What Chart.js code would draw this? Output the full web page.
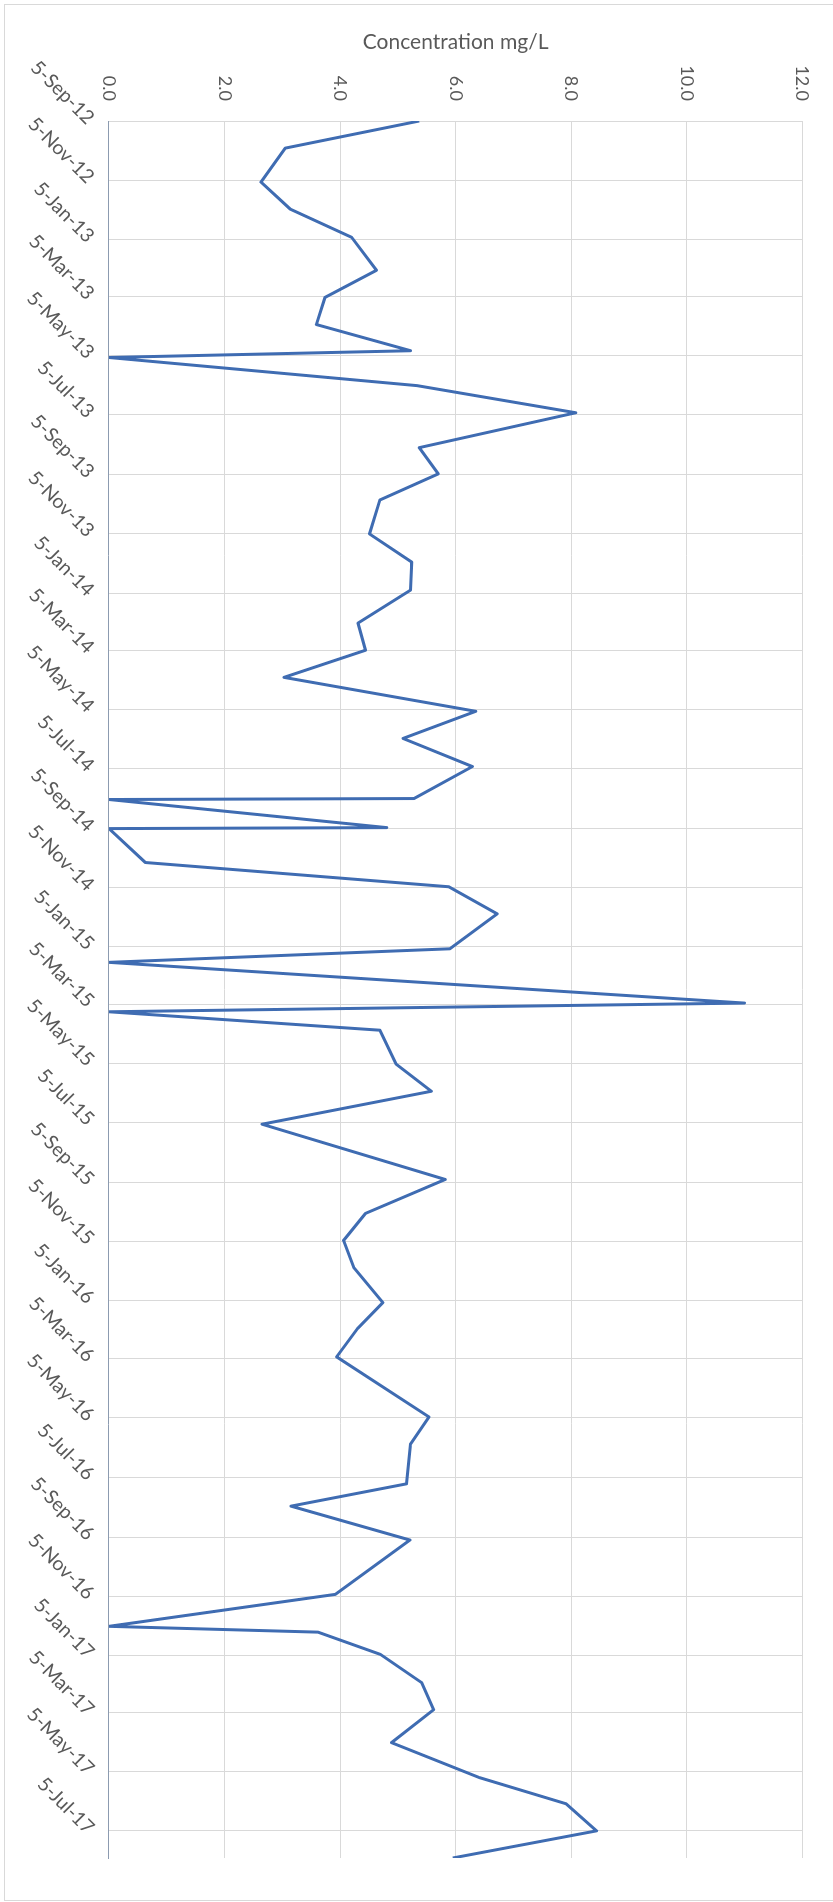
<!DOCTYPE html>
<html>
<head>
<meta charset="utf-8">
<script src="https://cdn.jsdelivr.net/npm/chart.js@4.4.0/dist/chart.umd.min.js"></script>
<style>
  html, body { margin: 0; padding: 0; background: #fff; overflow: hidden; }
  body { width: 833px; height: 1902px; position: relative; }
  #marco { position: absolute; left: 4px; top: 4px; width: 900px; height: 1897px; border: 1px solid #d9d9d9; box-sizing: border-box; }
  /* el grafico se dibuja horizontal y se gira 90 grados */
  #giro { position: absolute; left: 0; top: 0; width: 1902px; height: 833px; transform-origin: 0 0; transform: translateX(833px) rotate(90deg); }
</style>
</head>
<body>
<div id="marco"></div>
<div id="giro"><canvas id="graficoConcentracion" width="1902" height="833"></canvas></div>
<script>
// Muestreos
const fechas = [
  '2012-09-05', '2012-10-03', '2012-11-07', '2012-12-05', '2013-01-03', '2013-02-06',
  '2013-03-06', '2013-04-03', '2013-04-30', '2013-05-07', '2013-06-05', '2013-07-03',
  '2013-08-08', '2013-09-04', '2013-10-01', '2013-11-05', '2013-12-04', '2014-01-02',
  '2014-02-05', '2014-03-05', '2014-04-02', '2014-05-07', '2014-06-04', '2014-07-03',
  '2014-08-05', '2014-08-06', '2014-09-04', '2014-09-05', '2014-10-10', '2014-11-04',
  '2014-12-02', '2015-01-07', '2015-01-21', '2015-03-04', '2015-03-13', '2015-04-01',
  '2015-05-06', '2015-06-03', '2015-07-07', '2015-09-02', '2015-10-07', '2015-11-04',
  '2015-12-02', '2016-01-07', '2016-02-03', '2016-03-03', '2016-05-04', '2016-06-01',
  '2016-07-12', '2016-08-04', '2016-09-08', '2016-11-03', '2016-12-06', '2016-12-12',
  '2017-01-04', '2017-02-02', '2017-03-02', '2017-04-05', '2017-05-11', '2017-06-07',
  '2017-07-05', '2017-08-02'
];
const concentracion = [
  5.37, 3.05, 2.63, 3.14, 4.20, 4.63,
  3.74, 3.59, 5.22, 0, 5.33, 8.08,
  5.37, 5.70, 4.69, 4.51, 5.24, 5.22,
  4.31, 4.44, 3.03, 6.35, 5.09, 6.29,
  5.28, 0, 4.81, 0, 0.63, 5.88,
  6.72, 5.90, 0, 11.0, 0, 4.69,
  4.97, 5.58, 2.65, 5.82, 4.44, 4.06,
  4.24, 4.74, 4.30, 3.94, 5.54, 5.22,
  5.15, 3.15, 5.21, 3.92, 0, 3.62,
  4.70, 5.41, 5.62, 4.89, 6.41, 7.91,
  8.44, 5.95
];

// Ejes
const etiquetasFecha = [
  '5-Sep-12', '5-Nov-12', '5-Jan-13', '5-Mar-13', '5-May-13', '5-Jul-13',
  '5-Sep-13', '5-Nov-13', '5-Jan-14', '5-Mar-14', '5-May-14', '5-Jul-14',
  '5-Sep-14', '5-Nov-14', '5-Jan-15', '5-Mar-15', '5-May-15', '5-Jul-15',
  '5-Sep-15', '5-Nov-15', '5-Jan-16', '5-Mar-16', '5-May-16', '5-Jul-16',
  '5-Sep-16', '5-Nov-16', '5-Jan-17', '5-Mar-17', '5-May-17', '5-Jul-17'
];
const marcasValor = [0, 2, 4, 6, 8, 10, 12];

const MESES = { Jan: 0, Feb: 1, Mar: 2, Apr: 3, May: 4, Jun: 5, Jul: 6, Aug: 7, Sep: 8, Oct: 9, Nov: 10, Dec: 11 };

// dias desde 1970, para usar un eje lineal sin adaptador de fechas
function diaISO(s) {
  const [a, m, d] = s.split('-').map(Number);
  return Date.UTC(a, m - 1, d) / 864e5;
}
function diaEtiqueta(s) {
  const [d, mes, a] = s.split('-');
  return Date.UTC(2000 + Number(a), MESES[mes], Number(d)) / 864e5;
}

const gris = '#595959';

const ctx = document.getElementById('graficoConcentracion');
if (ctx) {
  new Chart(ctx.getContext('2d'), {
    type: 'line',
    data: {
      datasets: [{
        label: 'Concentration mg/L',
        data: fechas.map((f, i) => ({ x: diaISO(f), y: concentracion[i] })),
        borderColor: '#3f6cb2',
        borderWidth: 3,
        borderJoinStyle: 'round',
        pointRadius: 0,
        tension: 0,
        fill: false
      }]
    },
    options: {
      responsive: false,
      animation: false,
      layout: { padding: { top: 23, right: 44, bottom: 0, left: 0 } },
      plugins: { legend: { display: false }, tooltip: { enabled: false } },
      scales: {
        x: {
          type: 'linear',
          min: diaISO(fechas[0]),
          max: diaISO(fechas[fechas.length - 1]),
          afterBuildTicks: eje => { eje.ticks = etiquetasFecha.map(t => ({ value: diaEtiqueta(t) })); },
          afterFit: eje => { eje.height = 109; },
          ticks: {
            autoSkip: false,
            minRotation: 45,
            maxRotation: 45,
            padding: 10,
            color: gris,
            font: { family: 'Lato', size: 19.5 },
            callback: (v, i) => etiquetasFecha[i]
          },
          grid: { color: '#d9d9d9', drawTicks: false },
          border: { color: '#8c9bb0', width: 1 }
        },
        y: {
          min: 0,
          max: 12,
          afterBuildTicks: eje => { eje.ticks = marcasValor.map(v => ({ value: v })); },
          afterFit: eje => { eje.width = 121; },
          ticks: {
            padding: 20,
            color: gris,
            font: { family: 'Lato', size: 18 },
            callback: v => v.toFixed(1)
          },
          grid: {
            color: c => (c.tick && c.tick.value === 0) ? 'rgba(0,0,0,0)' : '#d9d9d9',
            drawTicks: false
          },
          border: { display: false },
          title: {
            display: true,
            text: 'Concentration mg/L',
            color: gris,
            font: { family: 'Lato', size: 21 },
            padding: { top: 30, bottom: 0 }
          }
        }
      }
    }
  });
}
</script>
</body>
</html>
